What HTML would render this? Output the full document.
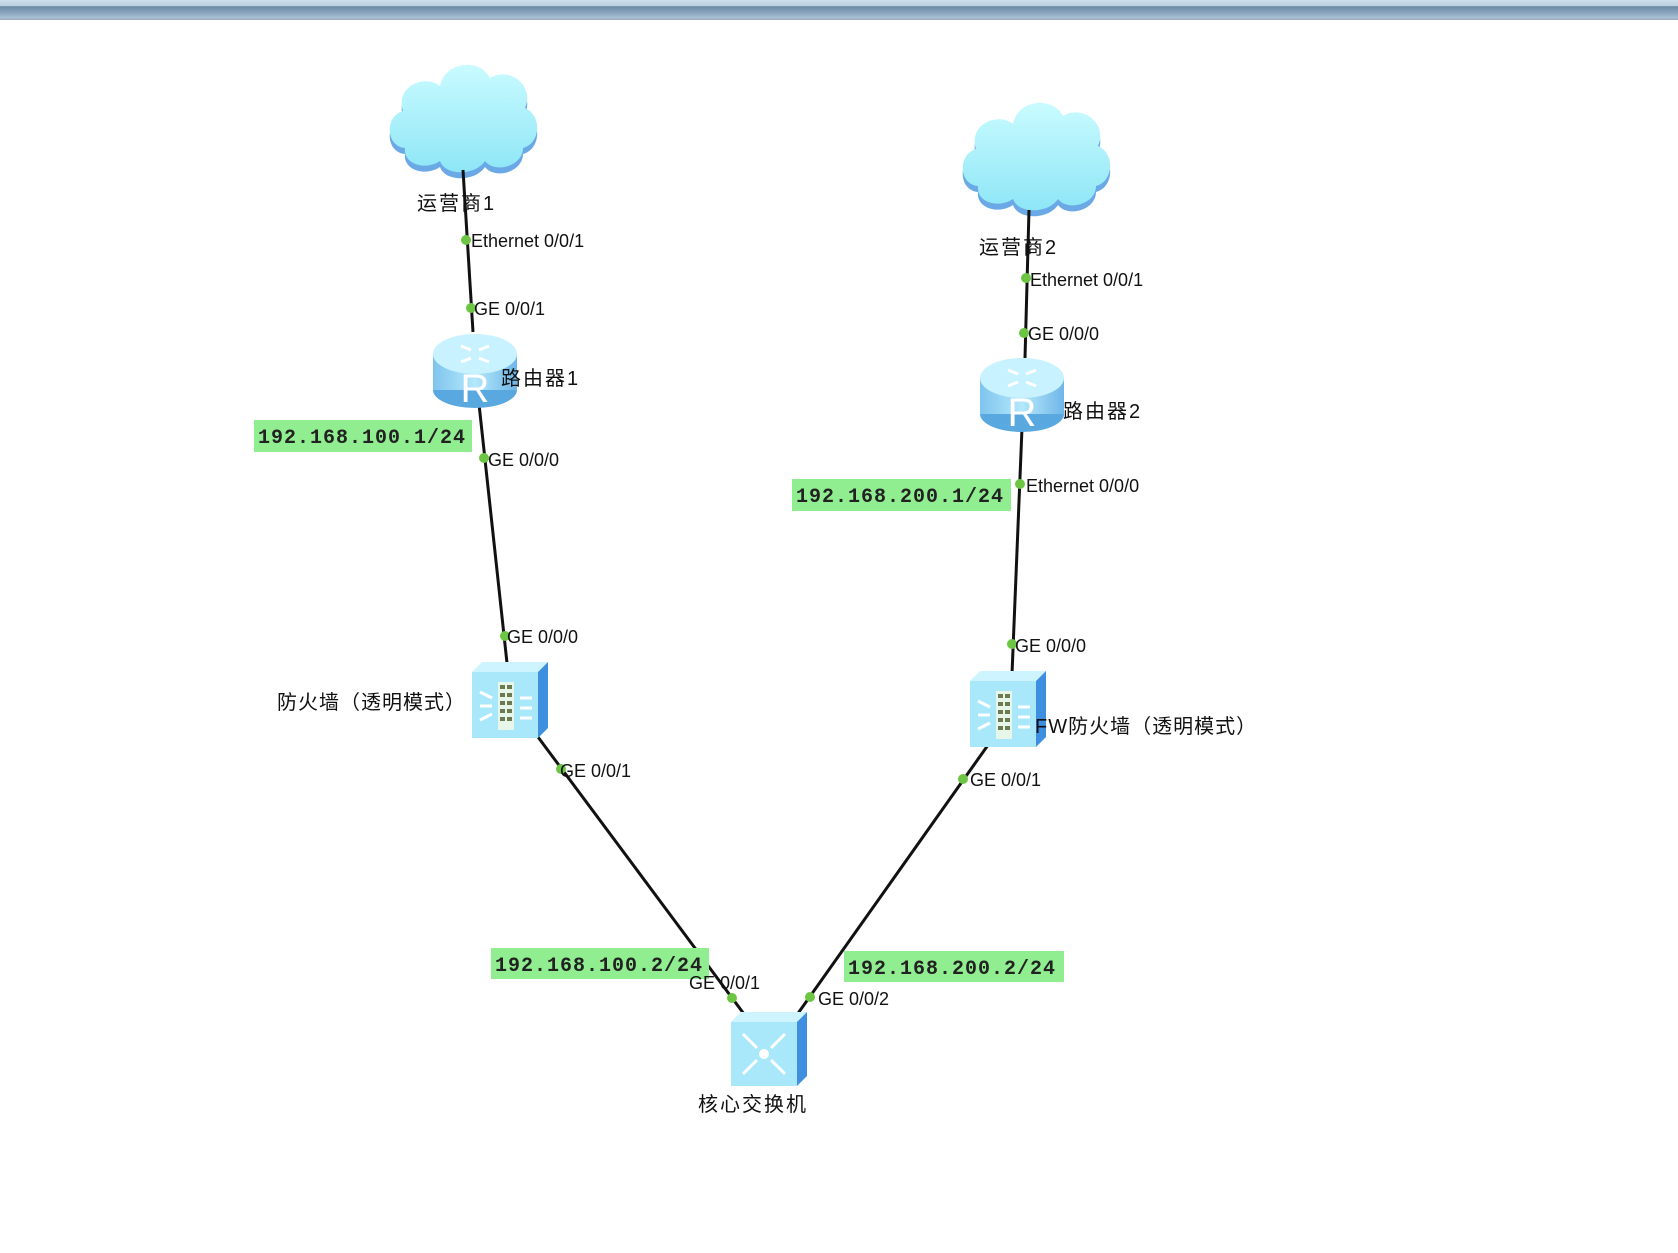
<!DOCTYPE html>
<html><head><meta charset="utf-8"><style>
html,body{margin:0;padding:0;background:#fff;width:1678px;height:1253px;overflow:hidden}
svg{display:block}
text{font-family:"Liberation Sans","Noto Sans CJK SC",sans-serif;fill:#111}
.p{font-size:18px;letter-spacing:0px}
.n{font-size:20px;letter-spacing:2px}
.ip{font-family:"Liberation Mono","DejaVu Sans Mono",monospace;font-size:20px;fill:#222;letter-spacing:1px;font-weight:bold}
</style></head><body>
<svg width="1678" height="1253" viewBox="0 0 1678 1253" xmlns="http://www.w3.org/2000/svg">
<defs>
<linearGradient id="bar" x1="0" y1="0" x2="0" y2="1">
<stop offset="0" stop-color="#cfdde9"/><stop offset="0.3" stop-color="#b9cfe0"/><stop offset="0.32" stop-color="#6c8aa4"/><stop offset="0.55" stop-color="#7f9db7"/><stop offset="0.9" stop-color="#a9bfd3"/><stop offset="1" stop-color="#9aa6b5"/>
</linearGradient>
<linearGradient id="cl" x1="0" y1="0" x2="0" y2="1"><stop offset="0" stop-color="#c9fbff"/><stop offset="1" stop-color="#8ee6f6"/></linearGradient>
<linearGradient id="rt" x1="0" y1="0" x2="1" y2="0"><stop offset="0" stop-color="#7fc4ee"/><stop offset="0.5" stop-color="#b4e8fb"/><stop offset="1" stop-color="#6fb6e8"/></linearGradient>
<g id="cloud">
<path d="M20,92 C0,90 0,60 18,55 C10,30 40,18 55,30 C60,5 95,2 105,22 C125,10 150,30 140,52 C158,60 155,88 138,92 C138,110 110,118 100,105 C90,120 60,120 55,105 C40,115 18,108 20,92 Z" fill="#6aa9e6" transform="translate(0,6)"/>
<path d="M20,92 C0,90 0,60 18,55 C10,30 40,18 55,30 C60,5 95,2 105,22 C125,10 150,30 140,52 C158,60 155,88 138,92 C138,110 110,118 100,105 C90,120 60,120 55,105 C40,115 18,108 20,92 Z" fill="url(#cl)"/>
</g>
<g id="router">
<ellipse cx="42" cy="58" rx="42" ry="18" fill="#5aa8e0"/>
<rect x="0" y="22" width="84" height="36" fill="url(#rt)"/>
<ellipse cx="42" cy="22" rx="42" ry="20" fill="#c8f2ff"/>
<path d="M28,14 l10,4 M56,14 l-10,4 M28,30 l10,-4 M56,30 l-10,-4" stroke="#fff" stroke-width="3"/>
<text x="42" y="70" text-anchor="middle" style="font-size:40px;fill:#fff;font-family:'Liberation Sans',sans-serif">R</text>
</g>
<g id="fw">
<path d="M0,10 L10,0 L76,0 L66,10 Z" fill="#cdf4ff"/>
<path d="M66,10 L76,0 L76,66 L66,76 Z" fill="#3f8fe0"/>
<rect x="0" y="10" width="66" height="66" fill="#a9e8fb"/>
<rect x="26" y="20" width="16" height="48" fill="#e6f7ea"/>
<g fill="#6b7a50"><rect x="28" y="23" width="5" height="4"/><rect x="35" y="23" width="5" height="4"/><rect x="28" y="31" width="5" height="4"/><rect x="35" y="31" width="5" height="4"/><rect x="28" y="39" width="5" height="4"/><rect x="35" y="39" width="5" height="4"/><rect x="28" y="47" width="5" height="4"/><rect x="35" y="47" width="5" height="4"/><rect x="28" y="55" width="5" height="4"/><rect x="35" y="55" width="5" height="4"/></g>
<path d="M8,30 l12,6 M8,44 l12,0 M8,58 l12,-6 M48,36 l12,0 M48,46 l12,0 M48,56 l12,0" stroke="#fff" stroke-width="3"/>
</g>
<g id="sw">
<path d="M0,10 L10,0 L76,0 L66,10 Z" fill="#cdf4ff"/>
<path d="M66,10 L76,0 L76,64 L66,74 Z" fill="#3f8fe0"/>
<rect x="0" y="10" width="66" height="64" fill="#a9e8fb"/>
<circle cx="33" cy="42" r="5" fill="#fff"/>
<path d="M12,22 l14,14 M54,22 l-14,14 M12,62 l14,-14 M54,62 l-14,-14" stroke="#fff" stroke-width="3"/>
</g>
</defs>
<rect x="0" y="0" width="1678" height="20" fill="url(#bar)"/>

<use href="#cloud" x="385" y="56"/>
<use href="#cloud" x="958" y="94"/>

<g stroke="#111" stroke-width="3" fill="none">
<line x1="463" y1="170" x2="473" y2="332"/>
<line x1="479" y1="404" x2="507" y2="663"/>
<line x1="535" y1="733" x2="744" y2="1014"/>
<line x1="794" y1="1019" x2="993" y2="738"/>
<line x1="1012" y1="674" x2="1022" y2="428"/>
<line x1="1025" y1="358" x2="1029" y2="210"/>
</g>

<use href="#router" x="433" y="332"/>
<use href="#router" x="980" y="356"/>
<use href="#fw" x="472" y="662"/>
<use href="#fw" x="970" y="671"/>
<use href="#sw" x="731" y="1012"/>

<rect x="254" y="420" width="218" height="32" fill="#90ee90"/>
<text class="ip" x="258" y="443">192.168.100.1/24</text>
<rect x="792" y="479" width="219" height="32" fill="#90ee90"/>
<text class="ip" x="796" y="502">192.168.200.1/24</text>
<rect x="491" y="948" width="218" height="31" fill="#90ee90"/>
<text class="ip" x="495" y="971">192.168.100.2/24</text>
<rect x="844" y="951" width="220" height="31" fill="#90ee90"/>
<text class="ip" x="848" y="974">192.168.200.2/24</text>

<g fill="#6cc644">
<circle cx="466" cy="240" r="5"/><circle cx="471" cy="308" r="5"/><circle cx="484" cy="458" r="5"/><circle cx="505" cy="636" r="5"/>
<circle cx="561" cy="769" r="5"/><circle cx="732" cy="998" r="5"/><circle cx="810" cy="997" r="5"/><circle cx="963" cy="779" r="5"/>
<circle cx="1012" cy="644" r="5"/><circle cx="1020" cy="484" r="5"/><circle cx="1024" cy="333" r="5"/><circle cx="1026" cy="278" r="5"/>
</g>

<g>
<text class="p" x="471" y="247">Ethernet 0/0/1</text>
<text class="p" x="474" y="315">GE 0/0/1</text>
<text class="p" x="488" y="466">GE 0/0/0</text>
<text class="p" x="507" y="643">GE 0/0/0</text>
<text class="p" x="560" y="777">GE 0/0/1</text>
<text class="p" x="689" y="989">GE 0/0/1</text>
<text class="p" x="818" y="1005">GE 0/0/2</text>
<text class="p" x="970" y="786">GE 0/0/1</text>
<text class="p" x="1015" y="652">GE 0/0/0</text>
<text class="p" x="1026" y="492">Ethernet 0/0/0</text>
<text class="p" x="1028" y="340">GE 0/0/0</text>
<text class="p" x="1030" y="286">Ethernet 0/0/1</text>
</g>

<text class="n" x="417" y="210">运营商1</text>
<text class="n" x="979" y="254">运营商2</text>
<text class="n" x="501" y="385">路由器1</text>
<text class="n" x="1063" y="418">路由器2</text>
<text class="n" x="277" y="709" style="letter-spacing:1px">防火墙（透明模式）</text>
<text class="n" x="1035" y="733" style="letter-spacing:1px">FW防火墙（透明模式）</text>
<text class="n" x="698" y="1111">核心交换机</text>
</svg>
</body></html>
